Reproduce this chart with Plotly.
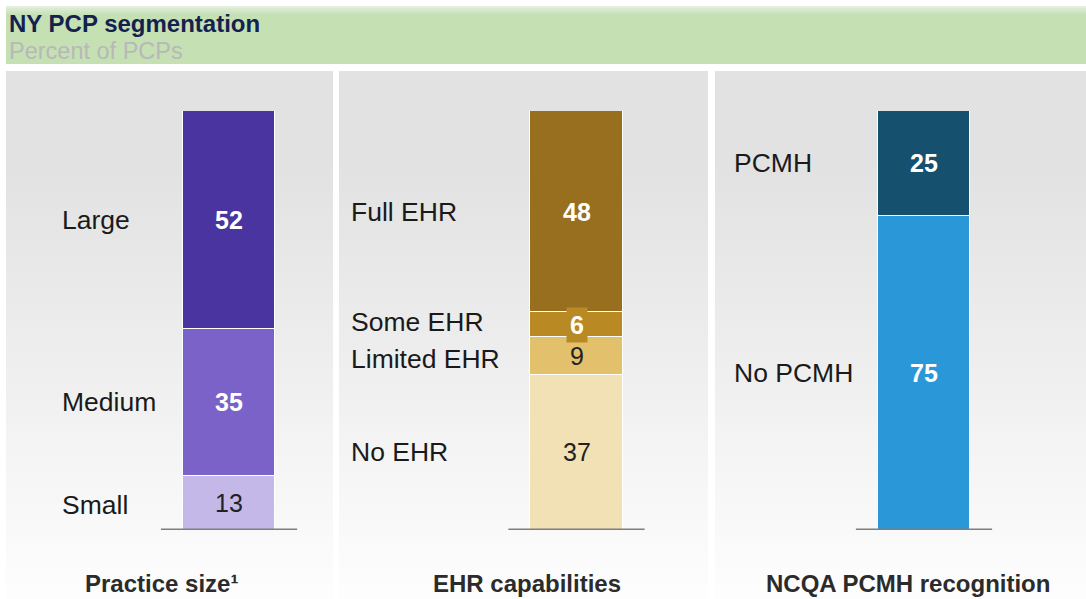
import plotly.graph_objects as go

W, H = 1086, 599

# ---------------- data ----------------
panel_titles = ["Practice size¹", "EHR capabilities", "NCQA PCMH recognition"]

size_labels = ["Small", "Medium", "Large"]
size_values = [13, 35, 52]

ehr_labels = ["No EHR", "Limited EHR", "Some EHR", "Full EHR"]
ehr_values = [37, 9, 6, 48]

pcmh_labels = ["No PCMH", "PCMH"]
pcmh_values = [75, 25]

# ---------------- styles ----------------
size_colors = ["#c4b8e8", "#7a62c8", "#4a34a0"]
size_text = [("#222222", False), ("#ffffff", True), ("#ffffff", True)]
ehr_colors = ["#f3e1b6", "#e3c06c", "#b98a24", "#976f1f"]
ehr_text = [("#222222", False), ("#222222", False), ("#ffffff", True), ("#ffffff", True)]
pcmh_colors = ["#2a97d9", "#15506f"]
pcmh_text = [("#ffffff", True), ("#ffffff", True)]

groups = [
    (size_labels, size_values, size_colors, size_text),
    (ehr_labels, ehr_values, ehr_colors, ehr_text),
    (pcmh_labels, pcmh_values, pcmh_colors, pcmh_text),
]

label_x_px = [60, 349, 732]
bottom_x_px = [161, 527, 908]
label_yshift = {"Some EHR": 3, "Limited EHR": -3, "Small": -2}
box_label = {"Some EHR": "#b98a24"}

FONT = "Arial, Liberation Sans, sans-serif"

panels_px = [(6, 333), (339, 708), (715, 1086)]


def px_x(p):
    return p / W


def px_y(p):
    return 1 - p / H


fig = go.Figure()

# bars
for gi, (labels, values, colors, _) in enumerate(groups):
    for lab, val, col in zip(labels, values, colors):
        fig.add_bar(
            x=[gi], y=[val], width=0.265, name=lab,
            marker=dict(color=col, line=dict(color="white", width=1.5)),
            hoverinfo="skip", showlegend=False,
        )

shapes = []
# panel gradient backgrounds
top, bot = 71, 599
step = 8
for (x0, x1) in panels_px:
    y = top
    while y < bot:
        yc = y + step / 2
        if yc < 170:
            v = 0xE2
        else:
            t = min(1.0, (yc - 170) / (590 - 170))
            v = int(round(0xE2 + (0xFD - 0xE2) * t))
        c = "#%02x%02x%02x" % (v, v, v)
        shapes.append(dict(type="rect", xref="paper", yref="paper",
                           x0=px_x(x0), x1=px_x(x1), y0=px_y(min(y + step, bot)), y1=px_y(y),
                           fillcolor=c, line=dict(width=0), layer="below"))
        y += step

# green header band
shapes.append(dict(type="rect", xref="paper", yref="paper",
                   x0=px_x(6), x1=1, y0=px_y(64), y1=px_y(14),
                   fillcolor="#c5e0b3", line=dict(width=0), layer="below"))
fade = ["#e4eede", "#dbe9d3", "#d3e6c8", "#cde3c0"]
for i, c in enumerate(fade):
    shapes.append(dict(type="rect", xref="paper", yref="paper",
                       x0=px_x(6), x1=1, y0=px_y(6 + 2 * (i + 1)), y1=px_y(6 + 2 * i),
                       fillcolor=c, line=dict(width=0), layer="below"))

# baselines
for gi in range(len(groups)):
    shapes.append(dict(type="line", xref="x", yref="y",
                       x0=gi - 0.196, x1=gi + 0.196, y0=0, y1=0,
                       line=dict(color="#7f7f7f", width=3), layer="above"))

annotations = []
# title
annotations.append(dict(text="<b>NY PCP segmentation</b>", xref="paper", yref="paper",
                        x=px_x(7), y=px_y(24), xanchor="left", yanchor="middle",
                        showarrow=False, font=dict(family=FONT, size=24, color="#14214f")))
annotations.append(dict(text="Percent of PCPs", xref="paper", yref="paper",
                        x=px_x(7), y=px_y(51), xanchor="left", yanchor="middle",
                        showarrow=False, font=dict(family=FONT, size=23.5, color="#b8b8b8")))

for gi, (labels, values, colors, tstyle) in enumerate(groups):
    cum = 0
    for lab, val, (tc, bold) in zip(labels, values, tstyle):
        mid = cum + val / 2
        cum += val
        txt = f"<b>{val}</b>" if bold else f"{val}"
        ann = dict(text=txt, xref="x", yref="y", x=gi, y=mid,
                   xanchor="center", yanchor="middle", showarrow=False,
                   font=dict(family=FONT, size=25, color=tc))
        if lab in box_label:
            ann.update(bgcolor=box_label[lab], borderpad=3)
        annotations.append(ann)
        annotations.append(dict(text=lab, xref="paper", yref="y",
                                x=px_x(label_x_px[gi]), y=mid,
                                yshift=label_yshift.get(lab, 0),
                                xanchor="left", yanchor="middle", showarrow=False,
                                font=dict(family=FONT, size=26.5, color="#1a1a1a")))
    annotations.append(dict(text=f"<b>{panel_titles[gi]}</b>", xref="paper", yref="paper",
                            x=px_x(bottom_x_px[gi]), y=px_y(583),
                            xanchor="center", yanchor="middle", showarrow=False,
                            font=dict(family=FONT, size=24, color="#2b2b2b")))

fig.update_layout(
    width=W, height=H,
    margin=dict(l=0, r=0, t=0, b=0),
    paper_bgcolor="white", plot_bgcolor="rgba(0,0,0,0)",
    barmode="stack", bargap=0,
    xaxis=dict(domain=[0, 1], range=[-229 / 347.5, (W - 229) / 347.5],
               visible=False, fixedrange=True),
    yaxis=dict(domain=[(H - 530) / H, (H - 111) / H], range=[0, 100],
               visible=False, fixedrange=True),
    shapes=shapes, annotations=annotations,
    showlegend=False,
)

fig.write_html(
    "out.html",
    config={"displayModeBar": False},
    post_script="document.body.style.margin='0';document.body.style.overflow='hidden';",
)
